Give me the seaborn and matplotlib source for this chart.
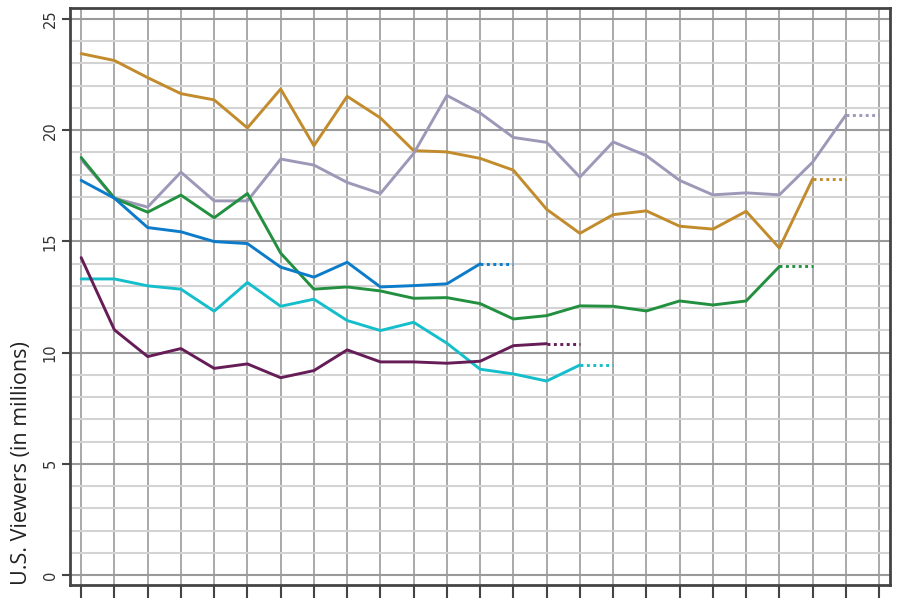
import matplotlib
matplotlib.use("Agg")
import matplotlib.pyplot as plt
from matplotlib.ticker import MultipleLocator
import seaborn as sns
import pandas as pd

# Viewers (millions) per episode, one list per season
season_gold = [23.44, 23.13, 22.36, 21.64, 21.36, 20.10, 21.85, 19.30, 21.52, 20.55,
               19.08, 19.02, 18.73, 18.20, 16.44, 15.36, 16.20, 16.37, 15.68, 15.55,
               16.35, 14.70, 17.81]
season_lavender = [18.68, 16.94, 16.54, 18.11, 16.82, 16.82, 18.70, 18.43, 17.65, 17.15,
                   18.95, 21.56, 20.77, 19.67, 19.45, 17.89, 19.47, 18.85, 17.74, 17.09,
                   17.18, 17.09, 18.56, 20.68]
season_green = [18.77, 16.94, 16.31, 17.08, 16.06, 17.15, 14.47, 12.85, 12.95, 12.77,
                12.44, 12.47, 12.20, 11.51, 11.66, 12.10, 12.08, 11.87, 12.32, 12.14,
                12.32, 13.87]
season_blue = [17.74, 16.94, 15.62, 15.43, 14.99, 14.90, 13.84, 13.39, 14.06, 12.95,
               13.01, 13.09, 13.99]
season_cyan = [13.31, 13.31, 13.00, 12.85, 11.86, 13.15, 12.08, 12.40, 11.44, 10.99,
               11.36, 10.42, 9.25, 9.04, 8.72, 9.44]
season_plum = [14.27, 11.02, 9.82, 10.18, 9.29, 9.49, 8.87, 9.19, 10.12, 9.58,
               9.58, 9.52, 9.61, 10.31, 10.40]

series = [
    (season_gold, "#C28B2C"),
    (season_lavender, "#9D98B8"),
    (season_green, "#22903F"),
    (season_blue, "#0B7BCA"),
    (season_cyan, "#15BECB"),
    (season_plum, "#651C57"),
]

y_label = "U.S. Viewers (in millions)"
n_ticks = 25

sns.set_theme(style="white")
plt.rcParams["font.family"] = ["Open Sans", "DejaVu Sans"]

fig = plt.figure(figsize=(9, 6), dpi=100)
ax = fig.add_axes([0.078, 0.025, 0.911, 0.962])

for vals, color in series:
    df = pd.DataFrame({"ep": list(range(len(vals))), "v": vals})
    sns.lineplot(data=df, x="ep", y="v", color=color, linewidth=2.1, ax=ax, zorder=3)
    last = len(vals) - 1
    ext = pd.DataFrame({"ep": [last, last + 1], "v": [vals[-1], vals[-1]]})
    sns.lineplot(data=ext, x="ep", y="v", color=color, linewidth=2.1,
                 linestyle=(0, (1, 1.2)), ax=ax, zorder=3)

ax.set_xlim(-0.33, 24.33)
ax.set_ylim(-0.45, 25.5)
ax.set_xticks(range(n_ticks))
ax.set_xticklabels([])
ax.yaxis.set_major_locator(MultipleLocator(5))
ax.yaxis.set_minor_locator(MultipleLocator(1))

ax.grid(axis="x", which="major", color="#a3a3a3", linewidth=1.3, zorder=0)
ax.grid(axis="y", which="major", color="#9a9a9a", linewidth=1.5, zorder=0)
ax.grid(axis="y", which="minor", color="#d3d3d3", linewidth=1.5, zorder=0)
ax.set_axisbelow(True)

for s in ax.spines.values():
    s.set_color("#444444")
    s.set_linewidth(2)

ax.tick_params(axis="x", which="major", bottom=True, length=9, width=1.5,
               color="#444444", direction="out")
ax.tick_params(axis="y", which="major", left=True, length=6, width=1.5,
               color="#444444", direction="out", labelsize=10.5, labelcolor="#333333",
               pad=3)
ax.tick_params(axis="y", which="minor", left=False)
for lbl in ax.get_yticklabels():
    lbl.set_rotation(90)
    lbl.set_va("center")
    lbl.set_family(["DejaVu Sans"])

ax.set_xlabel("")
ax.set_ylabel(y_label, fontsize=15.5, color="#222222", labelpad=8, loc="bottom")

fig.savefig("out.png", dpi=100)
